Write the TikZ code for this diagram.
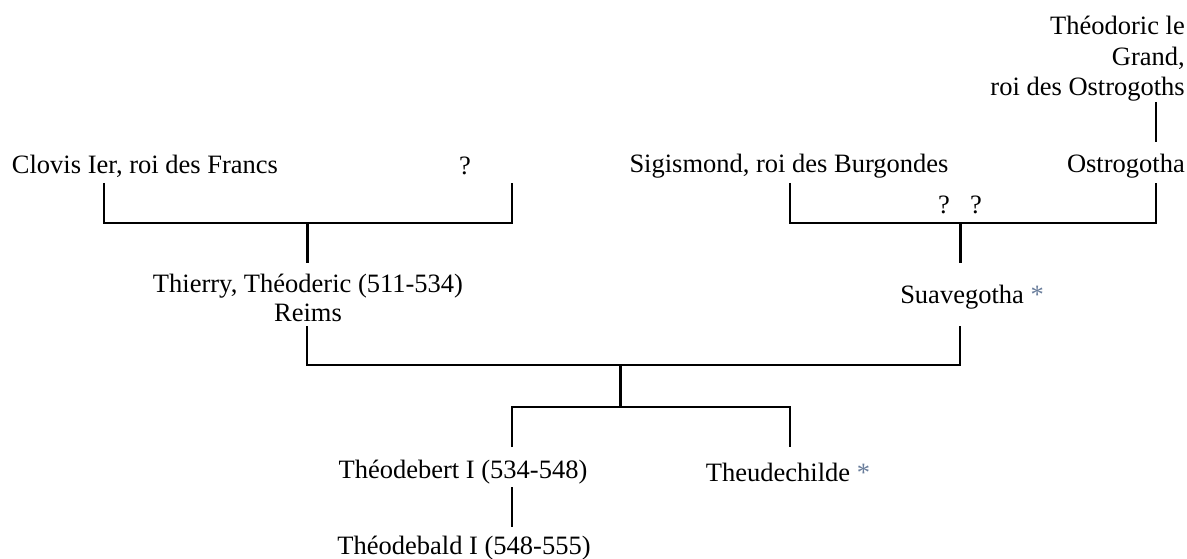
\documentclass[tikz,border=0pt]{standalone}
\usepackage{fontspec}
\setmainfont{Liberation Serif}
\definecolor{astc}{RGB}{105,125,155}
\begin{document}
\begin{tikzpicture}[x=1pt,y=-1pt,
  person/.style={inner sep=0pt,font=\fontsize{26.5}{29.5}\selectfont,align=center},
  thin/.style={line width=2pt},
  thick/.style={line width=3pt}]
\useasboundingbox (0,0) rectangle (1187,559);
% nodes
\node[person,align=right,anchor=east,font=\fontsize{26.5}{30.5}\selectfont] (theo) at (1185,59) {Théodoric le\\Grand,\\roi des Ostrogoths};
\node[person,anchor=east] (ostro) at (1185,166) {Ostrogotha};
\node[person] (sigis) at (789,166) {Sigismond, roi des Burgondes};
\node[person] (clovis) at (145,166) {Clovis Ier, roi des Francs};
\node[person] (q1) at (465,166) {?};
\node[person] (q2) at (944,205) {?};
\node[person] (q3) at (976,205) {?};
\node[person] (thierry) at (308,298) {Thierry, Théoderic (511-534)\\Reims};
\node[person] (suave) at (972,297) {Suavegotha \textcolor{astc}{*}};
\node[person] (tbert) at (463,472) {Théodebert I (534-548)};
\node[person] (tchild) at (788,472) {Theudechilde \textcolor{astc}{*}};
\node[person] (tbald) at (464,548) {Théodebald I (548-555)};
% coordinates
\coordinate (th1) at (1156,102);
\coordinate (th2) at (1156,142);
\coordinate (c1) at (104,183);
\coordinate (c2) at (512,183);
\coordinate (b1) at (307,223);
\coordinate (b1e) at (307,263);
\coordinate (s1) at (790,183);
\coordinate (o1) at (1156,183);
\coordinate (b2) at (960,223);
\coordinate (b2e) at (960,263);
\coordinate (t1) at (307,326);
\coordinate (sv1) at (960,326);
\coordinate (b3) at (620,365);
\coordinate (b4) at (620,407);
\coordinate (k1) at (512,447);
\coordinate (k2) at (790,447);
\coordinate (d1) at (512,487);
\coordinate (d2) at (512,527);
% connectors
\draw[thin] (th1) -- (th2);
\draw[thin] (c1) |- (b1) -| (c2);
\draw[thick] (b1) -- (b1e);
\draw[thin] (s1) |- (b2) -| (o1);
\draw[thick] (b2) -- (b2e);
\draw[thin] (t1) |- (b3) -| (sv1);
\draw[thick] (b3) -- (b4);
\draw[thin] (k1) |- (b4) -| (k2);
\draw[thin] (d1) -- (d2);
\end{tikzpicture}
\end{document}
